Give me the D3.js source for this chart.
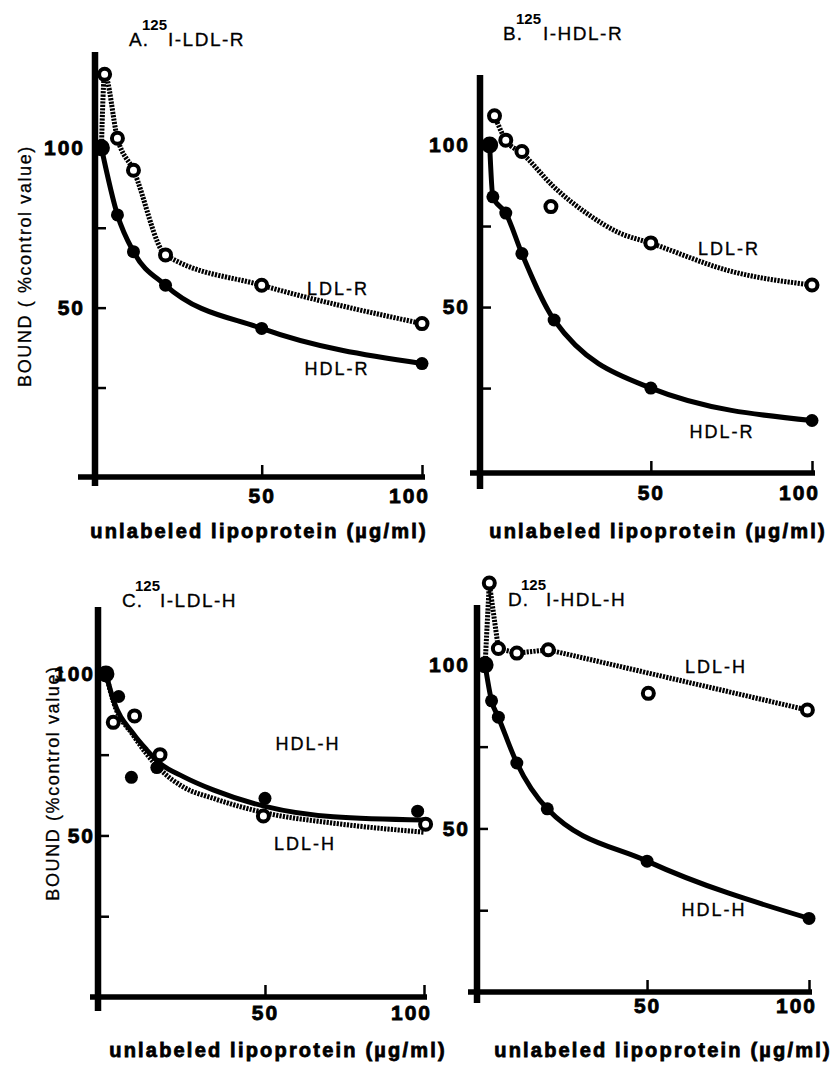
<!DOCTYPE html>
<html>
<head>
<meta charset="utf-8">
<script src="https://cdn.jsdelivr.net/npm/d3@7"></script>
<style>
  body { margin: 0; background: #fff; }
  svg { display: block; font-family: "Liberation Sans", Arial, Helvetica, sans-serif; }
</style>
</head>
<body>
<svg id="fig" width="836" height="1075"></svg>
<script>
// --- datos (% del valor control vs. µg/ml) ---

// Panel A: 125I-LDL-R
const aLdlX = [0, 1, 5, 10, 20, 50, 100];
const aLdlY = [100, 123, 103, 93, 66.5, 57, 45];
const aHdlX = [0, 5, 10, 20, 50, 100];
const aHdlY = [100, 79, 67.5, 57, 43.5, 32.5];

// Panel B: 125I-HDL-R
const bLdlX = [0, 1.5, 5, 10, 19, 50, 100];
const bLdlY = [100, 109, 101.5, 98, 81, 69.8, 56.8];
const bLdlFitX = [1.5, 5, 10, 20, 30, 40, 50, 75, 100];
const bLdlFitY = [109, 101.5, 97.5, 87, 79, 73, 69.7, 61, 56.8];
const bHdlX = [0, 1, 5, 10, 20, 50, 100];
const bHdlY = [100, 84, 79, 66.5, 46, 25, 15];

// Panel C: 125I-LDL-H
const cLdlX = [0, 2.3, 9, 17, 49.5, 100.5];
const cLdlY = [100, 85, 87, 75, 56, 53.5];
const cLdlFitX = [0, 2.3, 8.6, 17, 24.3, 33.7, 50, 71.5, 100];
const cLdlFitY = [100, 91.5, 81, 70.5, 65, 61.5, 57, 53.8, 51];
const cHdlX = [0, 4, 8, 16, 50, 98];
const cHdlY = [100, 93, 68, 71, 61.5, 57.5];
const cHdlFitX = [0, 2.3, 8.6, 12.8, 17, 24.3, 33.7, 50, 71.5, 100];
const cHdlFitY = [100, 92, 81.5, 76.5, 72.3, 68.2, 64.1, 59, 55.8, 54.8];

// Panel D: 125I-HDL-H
const dLdlX = [0, 1.3, 4.1, 9.8, 19.5, 50.4, 99.5];
const dLdlY = [100, 125, 105, 103.6, 104.6, 91.3, 86.2];
const dLdlFitX = [0, 1.3, 4.1, 9.8, 19.5, 99.5];
const dLdlFitY = [100, 125, 105, 103.6, 104.6, 86.2];
const dHdlX = [0, 2, 4.1, 9.8, 19.2, 50, 100];
const dHdlY = [100, 89, 84, 70, 56, 40, 22.5];

// ejes
const xTicks = [50, 100];
const yTicks = [25, 50, 75, 100];
const yLabeled = [50, 100];

const xTitle = 'unlabeled lipoprotein (µg/ml)';

const zip = (xs, ys) => xs.map((v, i) => [v, ys[i]]);

// --- disposición de cada panel (píxeles) ---
const panels = [
  {
    letter: 'A.', iso: '125', name: 'I-LDL-R',
    title: {lx: 129, sx: 142, nx: 168, base: 46},
    xd: [-2, 100], xr: [95, 422], yd: [-3, 130], yr: [477, 52],
    xExt: 17, yExt: 9, yPad: 10, xPad: 11,
    yLabel: 'BOUND ( %control value)', yLabelPos: [31, 266],
    xTitlePos: [259, 538],
    series: [
      {pts: zip(aLdlX, aLdlY), fit: zip(aLdlX, aLdlY), open: true, curve: d3.curveMonotoneX},
      {pts: zip(aHdlX, aHdlY), fit: zip(aHdlX, aHdlY), open: false, curve: d3.curveMonotoneX}
    ],
    labels: [['LDL-R', 338, 295], ['HDL-R', 337, 375]]
  },
  {
    letter: 'B.', iso: '125', name: 'I-HDL-R',
    title: {lx: 503, sx: 516, nx: 543, base: 40},
    xd: [-3, 100], xr: [480, 812], yd: [-1.2, 121.6], yr: [473, 75],
    xExt: 10, yExt: 16, yPad: 10, xPad: 12,
    xTitlePos: [658, 538],
    series: [
      {pts: zip(bLdlX, bLdlY), fit: zip(bLdlFitX, bLdlFitY), open: true, curve: d3.curveMonotoneX},
      {pts: zip(bHdlX, bHdlY), fit: zip(bHdlX, bHdlY), open: false, curve: d3.curveMonotoneX}
    ],
    labels: [['LDL-R', 729, 255], ['HDL-R', 722, 438]]
  },
  {
    letter: 'C.', iso: '125', name: 'I-LDL-H',
    title: {lx: 122, sx: 135, nx: 160, base: 607},
    xd: [-2.5, 100], xr: [98, 424], yd: [0, 120.7], yr: [997, 607],
    xExt: 8, yExt: 14, yPad: 3, xPad: 8,
    yLabel: 'BOUND (%control value)', yLabelPos: [59, 783],
    xTitlePos: [278, 1057],
    series: [
      {pts: zip(cLdlX, cLdlY), fit: zip(cLdlFitX, cLdlFitY), open: true, curve: d3.curveMonotoneX},
      {pts: zip(cHdlX, cHdlY), fit: zip(cHdlFitX, cHdlFitY), open: false, curve: d3.curveMonotoneX}
    ],
    labels: [['HDL-H', 308, 750], ['LDL-H', 305, 850]]
  },
  {
    letter: 'D.', iso: '125', name: 'I-HDL-H',
    title: {lx: 508, sx: 521, nx: 546, base: 606},
    xd: [-2.5, 100], xr: [477, 809], yd: [0, 118.3], yr: [992, 605],
    xExt: 9, yExt: 11, yPad: 7, xPad: 6,
    xTitlePos: [663, 1057],
    series: [
      {pts: zip(dLdlX, dLdlY), fit: zip(dLdlFitX, dLdlFitY), open: true, curve: d3.curveLinear},
      {pts: zip(dHdlX, dHdlY), fit: zip(dHdlX, dHdlY), open: false, curve: d3.curveMonotoneX}
    ],
    labels: [['LDL-H', 716, 673], ['HDL-H', 714, 916]]
  }
];

const svg = d3.select('#fig');
svg.append('rect').attr('width', 836).attr('height', 1075).attr('fill', '#fff');

// engrosa un texto con un trazo fino (imita la impresión)
const heavy = (sel, w) => sel.attr('stroke', '#000').attr('stroke-width', w);

panels.forEach(p => {
  const g = svg.append('g');
  const x = d3.scaleLinear().domain(p.xd).range(p.xr);
  const y = d3.scaleLinear().domain(p.yd).range(p.yr);
  const x0 = x(p.xd[0]), y0 = y(p.yd[0]);

  // ticks del eje Y (hacia dentro), etiquetas sólo en 50 y 100
  const ya = g.append('g')
    .attr('transform', `translate(${x0},0)`)
    .call(d3.axisLeft(y).tickValues(yTicks).tickSizeInner(-11).tickSizeOuter(0)
      .tickPadding(p.yPad).tickFormat(d => yLabeled.includes(d) ? d : ''));
  // ticks del eje X
  const xa = g.append('g')
    .attr('transform', `translate(0,${y0})`)
    .call(d3.axisBottom(x).tickValues(xTicks).tickSizeInner(-12).tickSizeOuter(0)
      .tickPadding(p.xPad));
  [ya, xa].forEach(a => {
    a.select('.domain').remove();
    a.selectAll('line').attr('stroke', '#000').attr('stroke-width', 2.5);
    heavy(a.selectAll('text').attr('fill', '#000'), 0.8)
      .style('font-size', '21px').style('font-weight', 'bold').style('letter-spacing', '2px');
  });
  xa.selectAll('text').filter(d => d === 100).attr('dx', -13);

  // líneas de los ejes (gruesas)
  g.append('line')
    .attr('x1', x0).attr('x2', x0)
    .attr('y1', y(p.yd[1])).attr('y2', y0 + p.yExt)
    .attr('stroke', '#000').attr('stroke-width', 6.5);
  g.append('line')
    .attr('x1', x0 - p.xExt).attr('x2', x(100) + 3)
    .attr('y1', y0).attr('y2', y0)
    .attr('stroke', '#000').attr('stroke-width', 5.5);

  // curvas
  p.series.forEach(s => {
    g.append('path')
      .datum(s.fit)
      .attr('fill', 'none')
      .attr('stroke', '#000')
      .attr('stroke-width', 5)
      .attr('stroke-dasharray', s.open ? '2.2,1.2' : null)
      .attr('d', d3.line().x(d => x(d[0])).y(d => y(d[1])).curve(s.curve));
  });

  // puntos: abiertos primero, rellenos encima
  p.series.filter(s => s.open).forEach(s => {
    g.selectAll(null).data(s.pts).enter().append('circle')
      .attr('cx', d => x(d[0])).attr('cy', d => y(d[1]))
      .attr('r', 5.5).attr('fill', '#fff').attr('stroke', '#000').attr('stroke-width', 4);
  });
  p.series.filter(s => !s.open).forEach(s => {
    g.selectAll(null).data(s.pts).enter().append('circle')
      .attr('cx', d => x(d[0])).attr('cy', d => y(d[1]))
      .attr('r', d => d[0] === 0 ? 8.5 : 6.5).attr('fill', '#000');
  });

  // etiquetas de series
  p.labels.forEach(([t, lx, ly]) => {
    heavy(g.append('text'), 0.35).attr('x', lx).attr('y', ly).attr('text-anchor', 'middle')
      .style('font-size', '18px').style('letter-spacing', '2px').text(t);
  });

  // título del panel: letra, isótopo en superíndice, nombre
  heavy(g.append('text'), 0.3).attr('x', p.title.lx).attr('y', p.title.base)
    .style('font-size', '19px').style('letter-spacing', '1px').text(p.letter);
  g.append('text').attr('x', p.title.sx).attr('y', p.title.base - 16)
    .style('font-size', '15px').style('font-weight', 'bold').text(p.iso);
  heavy(g.append('text'), 0.3).attr('x', p.title.nx).attr('y', p.title.base)
    .style('font-size', '19px').style('letter-spacing', '1.5px').text(p.name);

  // título del eje X
  heavy(g.append('text'), 0.8).attr('x', p.xTitlePos[0]).attr('y', p.xTitlePos[1])
    .attr('text-anchor', 'middle')
    .style('font-size', '20px').style('font-weight', 'bold').style('letter-spacing', '2.2px')
    .text(xTitle);

  // título del eje Y (sólo paneles de la izquierda)
  if (p.yLabel) {
    heavy(g.append('text'), 0.3)
      .attr('transform', `translate(${p.yLabelPos[0]},${p.yLabelPos[1]}) rotate(-90)`)
      .attr('text-anchor', 'middle')
      .style('font-size', '18px').style('letter-spacing', '1.6px')
      .text(p.yLabel);
  }
});
</script>
</body>
</html>
